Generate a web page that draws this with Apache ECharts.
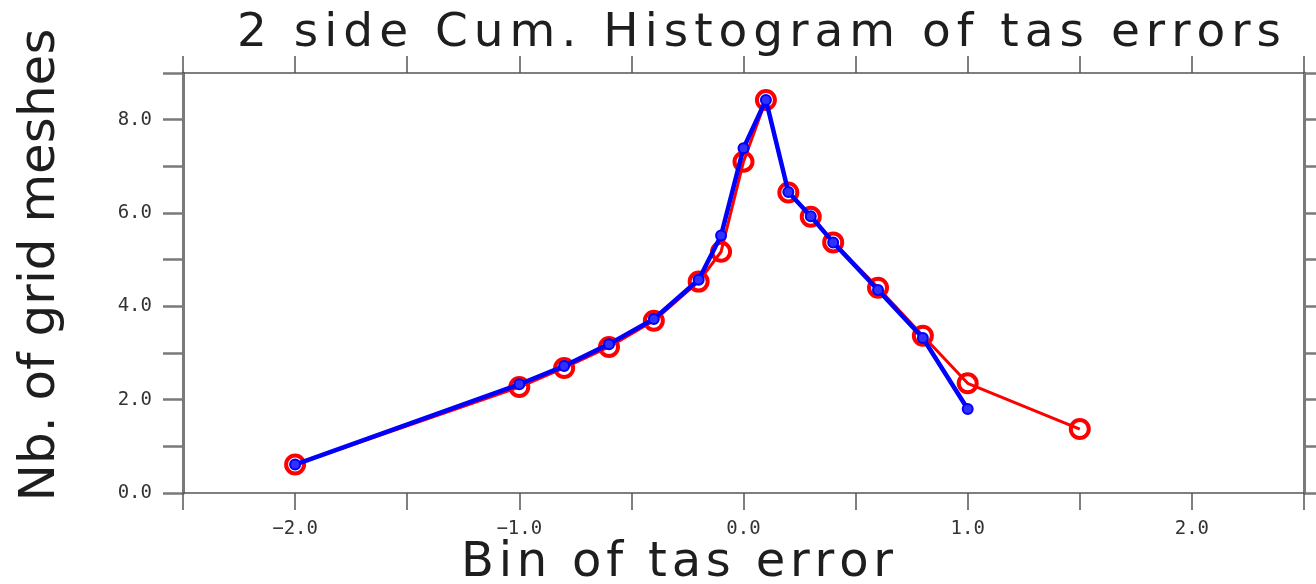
<!DOCTYPE html>
<html>
<head>
<meta charset="utf-8">
<script src="https://cdn.jsdelivr.net/npm/echarts@6/dist/echarts.min.js"></script>
<style>
html, body { margin: 0; padding: 0; background: #fff; }
#chart { width: 1316px; height: 584px; }
</style>
</head>
<body>
<div id="chart"></div>
<script>
// bins of tas error and cumulated counts
var binsRed = [-2.0, -1.0, -0.8, -0.6, -0.4, -0.2, -0.1, 0.0, 0.1, 0.2, 0.3, 0.4, 0.6, 0.8, 1.0, 1.5];
var valsRed = [0.61, 2.27, 2.68, 3.13, 3.69, 4.53, 5.17, 7.10, 8.42, 6.44, 5.92, 5.37, 4.40, 3.37, 2.35, 1.37];
var binsBlue = [-2.0, -1.0, -0.8, -0.6, -0.4, -0.2, -0.1, 0.0, 0.1, 0.2, 0.3, 0.4, 0.6, 0.8, 1.0];
var valsBlue = [0.61, 2.33, 2.72, 3.19, 3.73, 4.57, 5.52, 7.39, 8.42, 6.45, 5.93, 5.37, 4.35, 3.32, 1.80];
var xLabels = [-2.0, -1.0, 0.0, 1.0, 2.0];
var yLabels = [0.0, 2.0, 4.0, 6.0, 8.0];

var titleText = '2 side Cum. Histogram of tas errors';
var xName = 'Bin of tas error';
var yName = 'Nb. of grid meshes';

function pairs(xs, ys) {
    var out = [];
    for (var i = 0; i < xs.length; i++) out.push([xs[i], ys[i]]);
    return out;
}

// spread letters apart with rich tokens (canvas has no letter-spacing)
function spaced(str, key) {
    var s = '';
    for (var i = 0; i < str.length; i++) s += '{' + key + '|' + str.charAt(i) + '}';
    return s;
}

function fmt(v) {
    return v.toFixed(1).replace('-', '\u2212');
}

function inList(v, list) {
    for (var i = 0; i < list.length; i++) {
        if (Math.abs(list[i] - v) < 1e-9) return true;
    }
    return false;
}

var dom = document.getElementById("chart");
var myChart = echarts.init(dom);
var font = 'DejaVu Sans';
var tickFont = 'DejaVu Sans Mono';
var ink = '#1e1e1e';
var axisGrey = '#7a7a7a';

var option = {
    backgroundColor: '#fff',
    animation: false,
    grid: { left: 183, right: 12, top: 73, bottom: 91, outerBoundsMode: 'none' },
    graphic: [{
        type: 'text',
        x: 759, y: 34,
        style: {
            text: spaced(titleText, 'c'),
            align: 'center', verticalAlign: 'middle',
            rich: { c: { fontFamily: font, fontSize: 47, fill: ink, padding: [0, 3, 0, 3] } }
        }
    }, {
        type: 'text',
        x: 677, y: 564,
        style: {
            text: spaced(xName, 'c'),
            align: 'center', verticalAlign: 'middle',
            rich: { c: { fontFamily: font, fontSize: 48, fill: ink, padding: [0, 2.4, 0, 2.4] } }
        }
    }, {
        type: 'text',
        x: 41, y: 265,
        rotation: Math.PI / 2,
        style: {
            text: yName,
            align: 'center', verticalAlign: 'middle',
            fontFamily: font, fontSize: 50, fill: ink
        }
    }],
    xAxis: [{
        type: 'value',
        min: -2.5, max: 2.5, interval: 0.5,
        axisLine: { onZero: false, lineStyle: { color: '#555', width: 1.5 } },
        axisTick: { show: true, inside: false, length: 17, lineStyle: { color: '#555', width: 1.5 } },
        axisLabel: {
            margin: 27, fontFamily: tickFont, fontSize: 19, color: '#333',
            formatter: function (v) { return inList(v, xLabels) ? fmt(v) : ''; }
        },
        splitLine: { show: false }
    }, {
        type: 'value',
        position: 'top',
        min: -2.5, max: 2.5, interval: 0.5,
        axisLine: { onZero: false, lineStyle: { color: '#555', width: 1.5 } },
        axisTick: { show: true, inside: false, length: 17, lineStyle: { color: '#555', width: 1.5 } },
        axisLabel: { show: false },
        splitLine: { show: false }
    }],
    yAxis: [{
        type: 'value',
        min: 0, max: 9, interval: 1,
        axisLine: { show: true, onZero: false, lineStyle: { color: axisGrey, width: 3 } },
        axisTick: { show: true, inside: false, length: 20, lineStyle: { color: axisGrey, width: 2.5 } },
        axisLabel: {
            margin: 31, fontFamily: tickFont, fontSize: 19, color: '#333',
            formatter: function (v) { return inList(v, yLabels) ? fmt(v) : ''; }
        },
        splitLine: { show: false }
    }, {
        type: 'value',
        position: 'right',
        min: 0, max: 9, interval: 1,
        axisLine: { show: true, onZero: false, lineStyle: { color: axisGrey, width: 3 } },
        axisTick: { show: true, inside: false, length: 14, lineStyle: { color: axisGrey, width: 2.5 } },
        axisLabel: { show: false },
        splitLine: { show: false }
    }],
    series: [{
        name: 'red',
        type: 'line',
        data: pairs(binsRed, valsRed),
        symbol: 'circle',
        symbolSize: 18,
        lineStyle: { color: '#ff0000', width: 3 },
        itemStyle: { color: 'transparent', borderColor: '#ff0000', borderWidth: 4 },
        z: 2
    }, {
        name: 'blue',
        type: 'line',
        data: pairs(binsBlue, valsBlue),
        symbol: 'circle',
        symbolSize: 10,
        lineStyle: { color: '#0000ff', width: 4.5 },
        itemStyle: { color: '#3030ff', borderColor: '#0000ff', borderWidth: 2 },
        z: 3
    }]
};

if (option && typeof option === "object") {
    myChart.setOption(option, true);
}
</script>
</body>
</html>
